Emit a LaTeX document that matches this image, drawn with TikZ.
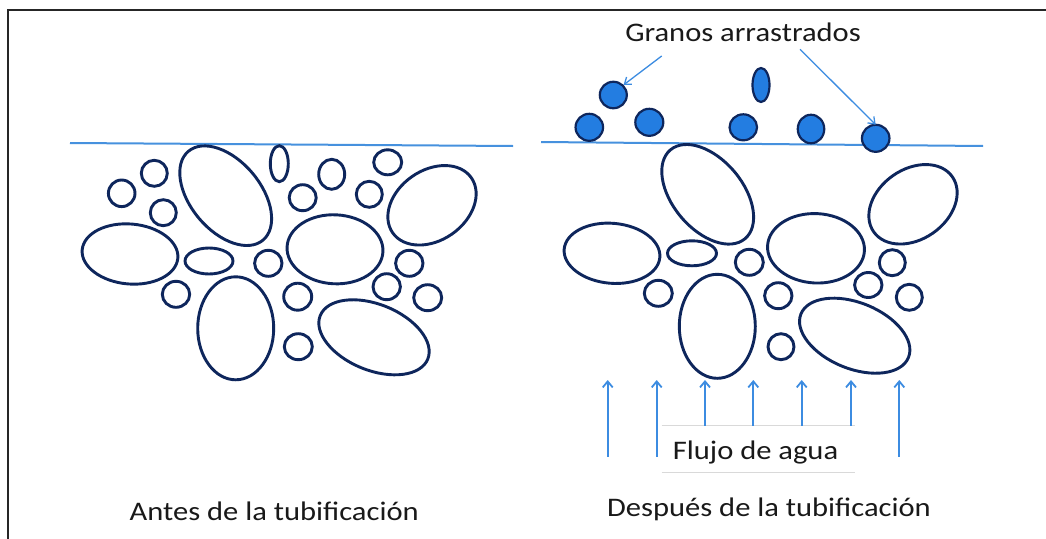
\documentclass[tikz,border=0pt]{standalone}
\usepackage{fontspec}
\setmainfont{Carlito}
\usetikzlibrary{arrows.meta,shapes.geometric}
\definecolor{grainline}{RGB}{14,38,92}
\definecolor{grainfill}{RGB}{35,125,225}
\definecolor{surf}{RGB}{70,145,222}
\definecolor{flowc}{RGB}{60,140,225}
\newcommand\grainE[5]{\draw[grain, shift={(#1,#2)}, rotate=#5] (0,0) ellipse [x radius=#3pt, y radius=#4pt];}
\newcommand\wide[1]{\scalebox{1.14}[1]{#1}}
\begin{document}
\begin{tikzpicture}[x=1pt,y=-1pt,
  grain/.style={draw=grainline, line width=2.9pt},
  moved/.style={ellipse, draw=grainline, fill=grainfill, line width=2.2pt, inner sep=0pt},
  surface/.style={draw=surf, line width=2pt},
  flowarrow/.style={draw=flowc, line width=1.8pt, -{Straight Barb[length=6pt,width=10pt]}},
  callout/.style={draw=flowc, line width=1.3pt, -{Straight Barb[length=6pt,width=9pt]}},
  lbl/.style={font=\fontsize{26.8}{30}\selectfont, text=black!90, inner sep=0pt, anchor=base}]
\useasboundingbox (0,0) rectangle (1046,538);
\fill[white] (0,0) rectangle (1046,538);
\draw[line width=2pt, black!85] (8,540) -- (8,10) -- (1048,10);
% surfaces
\draw[surface] (70,143) -- (513,146);
\draw[surface] (541,142) -- (983,146);
% left panel grains
\grainE{121.7}{193.3}{13.3}{13.3}{0}
\grainE{154.3}{173.3}{13}{13}{0}
\grainE{163.3}{212.7}{13}{13}{0}
\grainE{225.7}{195.7}{58}{35}{-50}
\grainE{279.3}{163.7}{9}{18}{0}
\grainE{331.7}{174.3}{13}{15}{0}
\grainE{387.7}{162.3}{14}{12.5}{0}
\grainE{302.7}{197.7}{13.5}{13}{0}
\grainE{369.3}{194.3}{13}{13}{0}
\grainE{432}{205.3}{48}{35}{35}
\grainE{130}{254}{48}{30}{-5}
\grainE{209}{261}{24}{13}{0}
\grainE{268.3}{263.3}{13.7}{13}{0}
\grainE{335}{249.3}{48}{34.5}{-3}
\grainE{409.3}{263.3}{13.7}{13}{0}
\grainE{176}{294.3}{13.7}{13}{0}
\grainE{297.7}{296.7}{14}{13.5}{0}
\grainE{386.7}{286.7}{13.7}{13}{0}
\grainE{427.7}{297.7}{14}{13}{0}
\grainE{235.7}{328.3}{38}{51.5}{0}
\grainE{298.3}{346.7}{14}{13}{0}
\grainE{374}{337.3}{58}{33}{-22}
% right panel grains
\grainE{707.7}{194.3}{58}{35}{-50}
\grainE{913}{204.3}{48}{35}{35}
\grainE{612}{253.3}{48}{30}{-5}
\grainE{692}{253.3}{24.5}{12.5}{0}
\grainE{749.3}{262.3}{14}{13}{0}
\grainE{816}{248.3}{48.5}{34.7}{-3}
\grainE{892.3}{262.7}{13}{13}{0}
\grainE{658.3}{293.3}{14}{13}{0}
\grainE{868.3}{285}{13.7}{12.5}{0}
\grainE{778.3}{295.7}{13.7}{13}{0}
\grainE{909.3}{297.3}{13}{13}{0}
\grainE{717.3}{326.3}{38}{52}{0}
\grainE{781}{346.7}{13}{13}{0}
\grainE{854.7}{335.7}{58}{33}{-22}
% moved grains
\node[moved, minimum width=27pt, minimum height=26.5pt] (g1) at (613.3,95) {};
\node[moved, minimum width=27.5pt, minimum height=27pt] (g2) at (589.3,127.3) {};
\node[moved, minimum width=28pt, minimum height=27pt] (g3) at (649.3,122.3) {};
\node[moved, minimum width=17pt, minimum height=34pt] (g4) at (761,85) {};
\node[moved, minimum width=27.5pt, minimum height=26pt] (g5) at (743.3,127.3) {};
\node[moved, minimum width=26.5pt, minimum height=28.5pt] (g6) at (811,129) {};
\node[moved, minimum width=27.5pt, minimum height=27pt] (g7) at (875.7,138.3) {};
% labels
\node[lbl] (granos) at (743,41.7) {\wide{Granos arrastrados}};
\coordinate (c1) at (661.7,56);
\coordinate (c2) at (800,49.3);
\draw[callout] (c1) -- (g1.north east);
\draw[callout] (c2) -- ([yshift=-1pt]g7.north);
\node[lbl] (antes) at (274.2,520) {\wide{Antes de la tubificación}};
\node[lbl] (despues) at (769,516.7) {\wide{Después de la tubificación}};
% flow
\node[fill=white, inner sep=0pt, minimum width=193pt, minimum height=46.6pt] (flowbox) at (758.3,449) {};
\draw[black!15, line width=0.8pt] (flowbox.north west) -- (flowbox.north east);
\draw[black!15, line width=0.8pt] (flowbox.south west) -- (flowbox.south east);
\node[lbl, anchor=base west] (flowtxt) at (672.7,459.3) {\wide{Flujo de agua}};
\coordinate (t1) at (607.7,380);
\coordinate (t2) at (656.7,380);
\coordinate (t3) at (705,380);
\coordinate (t4) at (753.3,380);
\coordinate (t5) at (801.7,380);
\coordinate (t6) at (851,380);
\coordinate (t7) at (899.3,380);
\draw[flowarrow] (607.7,456.7) -- (t1);
\draw[flowarrow] (656.7,456.7) -- (t2);
\draw[flowarrow] (t3 |- flowbox.north) -- (t3);
\draw[flowarrow] (t4 |- flowbox.north) -- (t4);
\draw[flowarrow] (t5 |- flowbox.north) -- (t5);
\draw[flowarrow] (t6 |- flowbox.north) -- (t6);
\draw[flowarrow] (899.3,456.7) -- (t7);
\end{tikzpicture}
\end{document}
